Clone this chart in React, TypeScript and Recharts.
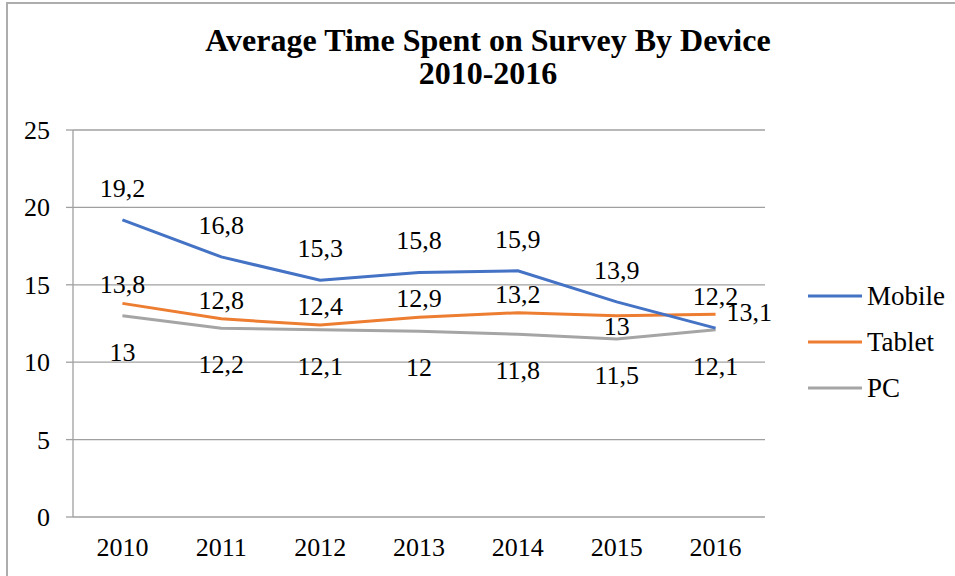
import React from "react";
import {
  LineChart,
  Line,
  XAxis,
  YAxis,
  CartesianGrid,
  LabelList,
} from "recharts";

const years = ["2010", "2011", "2012", "2013", "2014", "2015", "2016"];
const mobile = [19.2, 16.8, 15.3, 15.8, 15.9, 13.9, 12.2];
const tablet = [13.8, 12.8, 12.4, 12.9, 13.2, 13, 13.1];
const pc = [13, 12.2, 12.1, 12, 11.8, 11.5, 12.1];
const yTicks = [0, 5, 10, 15, 20, 25];
const seriesNames = ["Mobile", "Tablet", "PC"];

// where each data label sits relative to its point
const mobileLabelPos = ["above", "above", "above", "above", "above", "above", "above"];
const tabletLabelPos = ["above", "above", "above", "above", "above", "below", "right"];
const pcLabelPos = ["below", "below", "below", "below", "below", "below", "below"];

const FONT = "'Liberation Serif', 'Times New Roman', serif";
const FS = 26;
const GRID = "#a0a0a0";
const colors = { Mobile: "#4472C4", Tablet: "#ED7D31", PC: "#A5A5A5" };

const data = years.map((year, i) => ({
  year,
  Mobile: mobile[i],
  Tablet: tablet[i],
  PC: pc[i],
}));

const boundaryTicks = Array.from({ length: years.length + 1 }, (_, i) => i);

const fmt = (v: number) => String(v).replace(".", ",");

const textStyle = { fontFamily: FONT, fontSize: FS, fill: "#000" };

type Offset = { dx: number; dy: number; anchor: "start" | "middle" | "end" };

function makeLabel(placements: string[], offsets: Record<string, Offset>) {
  return (props: any) => {
    const { x, y, value, index } = props;
    const o = offsets[placements[index]];
    return (
      <text x={x + o.dx} y={y + o.dy} textAnchor={o.anchor} style={textStyle}>
        {fmt(value)}
      </text>
    );
  };
}

const mobileLabel = makeLabel(mobileLabelPos, {
  above: { dx: 0, dy: -23, anchor: "middle" },
});
const tabletLabel = makeLabel(tabletLabelPos, {
  above: { dx: 0, dy: -10, anchor: "middle" },
  below: { dx: 0, dy: 19, anchor: "middle" },
  right: { dx: 11, dy: 7, anchor: "start" },
});
const pcLabel = makeLabel(pcLabelPos, {
  below: { dx: 0, dy: 45, anchor: "middle" },
});

const XTick = (props: any) => {
  const { x, y, payload } = props;
  return (
    <text x={x} y={y + 18} textAnchor="middle" style={textStyle}>
      {payload.value}
    </text>
  );
};

const YTick = (props: any) => {
  const { x, y, payload } = props;
  return (
    <text x={x} y={y + 9} textAnchor="end" style={textStyle}>
      {payload.value}
    </text>
  );
};

export default function App() {
  return (
    <div
      style={{
        position: "absolute",
        left: 0,
        top: 0,
        width: 955,
        height: 576,
        overflow: "hidden",
        background: "#fff",
        fontFamily: FONT,
      }}
    >
      <div
        style={{
          position: "absolute",
          left: 6,
          top: 2,
          width: 1200,
          height: 900,
          borderLeft: "2px solid #adadad",
          borderTop: "2px solid #adadad",
        }}
      />
      <div
        style={{
          position: "absolute",
          left: 0,
          top: 24,
          width: 976,
          textAlign: "center",
          fontWeight: "bold",
          fontSize: 32,
          lineHeight: "33px",
          color: "#000",
        }}
      >
        <div>Average Time Spent on Survey By Device</div>
        <div>2010-2016</div>
      </div>

      <div style={{ position: "absolute", left: 0, top: 0 }}>
        <LineChart
          width={955}
          height={576}
          data={data}
          margin={{ top: 130, right: 190, bottom: 0, left: 0 }}
        >
          <CartesianGrid vertical={false} stroke={GRID} strokeWidth={1.3} />
          <XAxis
            xAxisId="bounds"
            type="number"
            domain={[0, years.length]}
            ticks={boundaryTicks}
            tick={false}
            tickSize={7}
            height={0}
            stroke={GRID}
            strokeWidth={1.3}
          />
          <XAxis
            dataKey="year"
            xAxisId="cat"
            scale="band"
            axisLine={false}
            tickLine={false}
            tickSize={0}
            tickMargin={21}
            height={59}
            tick={<XTick />}
          />
          <YAxis
            domain={[0, 25]}
            ticks={yTicks}
            width={73}
            tickSize={7}
            tickMargin={16}
            stroke={GRID}
            strokeWidth={1.3}
            tick={<YTick />}
          />
          <Line
            xAxisId="cat"
            dataKey="PC"
            stroke={colors.PC}
            strokeWidth={3}
            dot={false}
            isAnimationActive={false}
          >
            <LabelList dataKey="PC" content={pcLabel} />
          </Line>
          <Line
            xAxisId="cat"
            dataKey="Tablet"
            stroke={colors.Tablet}
            strokeWidth={3}
            dot={false}
            isAnimationActive={false}
          >
            <LabelList dataKey="Tablet" content={tabletLabel} />
          </Line>
          <Line
            xAxisId="cat"
            dataKey="Mobile"
            stroke={colors.Mobile}
            strokeWidth={3}
            dot={false}
            isAnimationActive={false}
          >
            <LabelList dataKey="Mobile" content={mobileLabel} />
          </Line>
        </LineChart>
      </div>

      <div style={{ position: "absolute", left: 808, top: 273 }}>
        {seriesNames.map((name) => (
          <div
            key={name}
            style={{ display: "flex", alignItems: "center", height: 46 }}
          >
            <svg width={54} height={4} style={{ display: "block" }}>
              <line
                x1={0}
                y1={2}
                x2={54}
                y2={2}
                stroke={colors[name as keyof typeof colors]}
                strokeWidth={3}
              />
            </svg>
            <span style={{ marginLeft: 5, fontSize: FS + 1, color: "#000" }}>
              {name}
            </span>
          </div>
        ))}
      </div>
    </div>
  );
}
